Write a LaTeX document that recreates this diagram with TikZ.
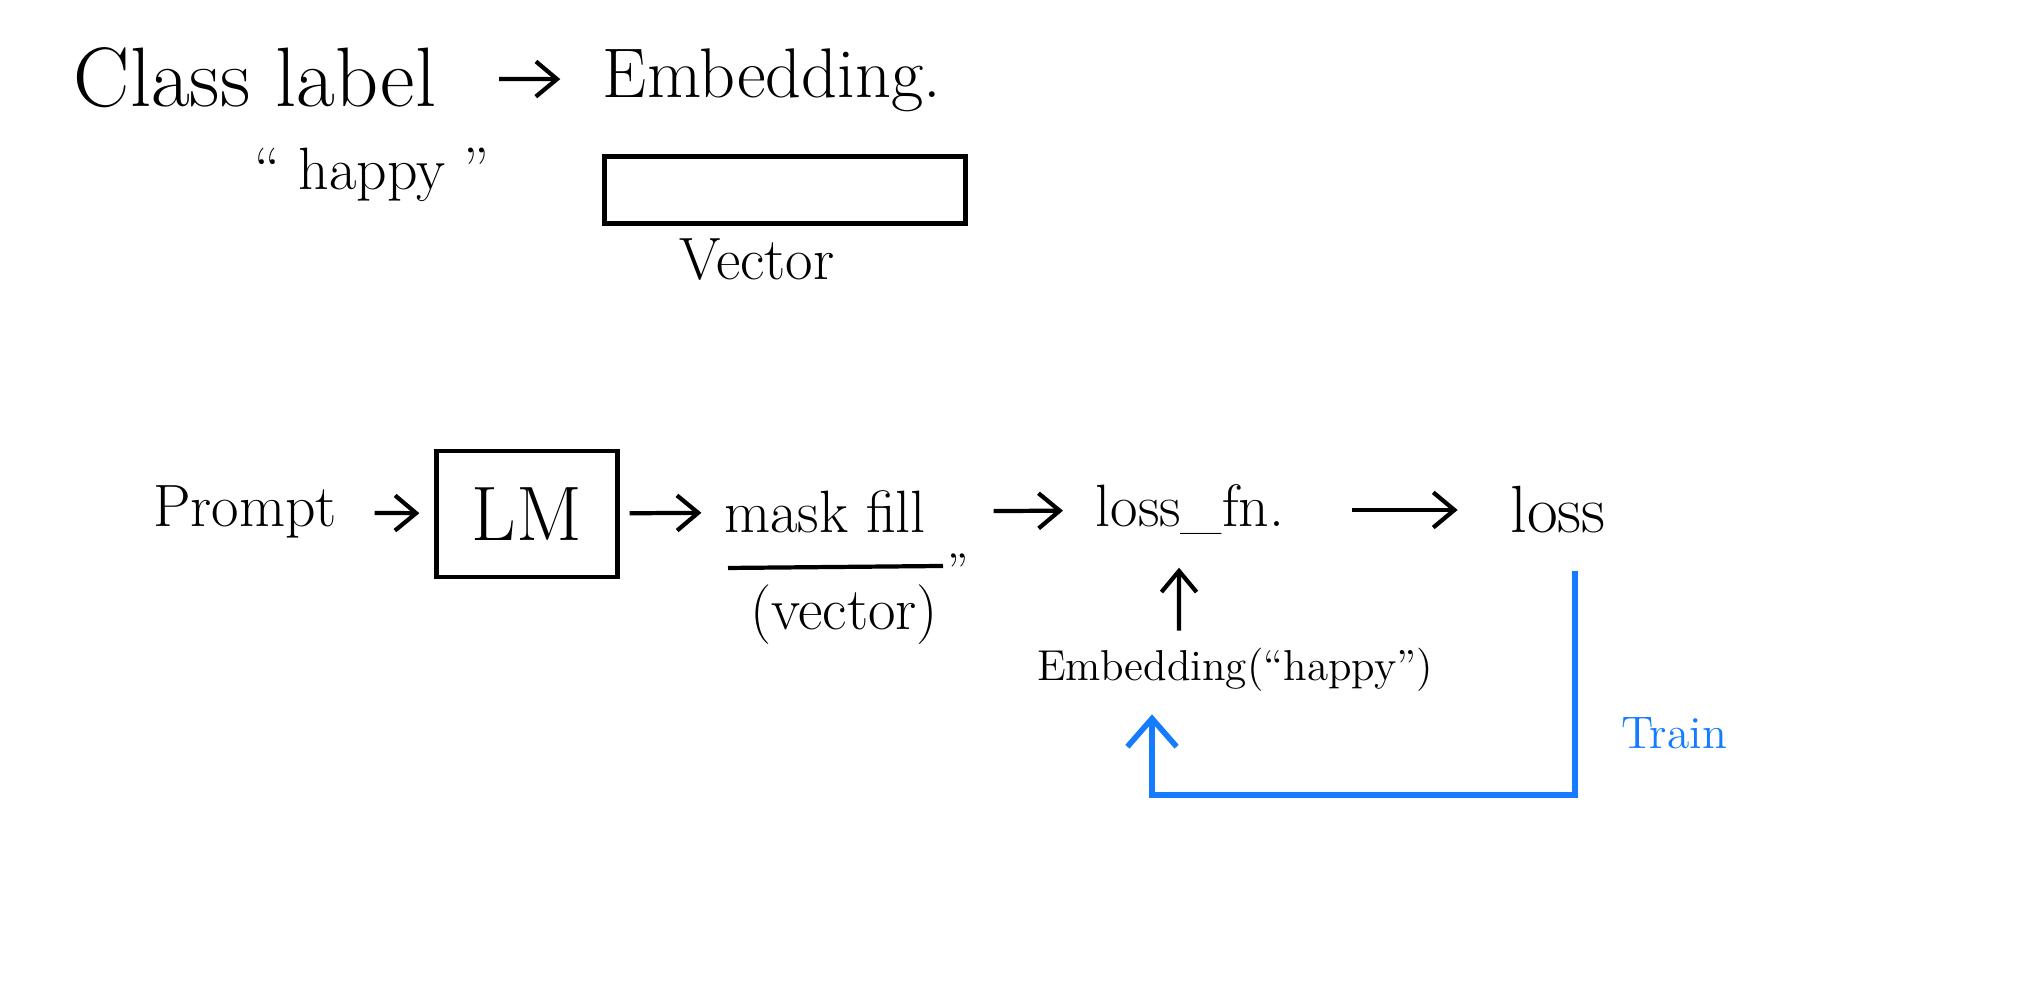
\documentclass[tikz,border=0pt]{standalone}
\usetikzlibrary{arrows.meta}
\definecolor{trainblue}{RGB}{22,124,255}
\tikzset{
	hand/.style={font=\fontsize{17}{20}\selectfont,inner sep=2pt},
	big/.style={font=\fontsize{22}{26}\selectfont,inner sep=2pt},
	small/.style={font=\fontsize{13}{16}\selectfont,inner sep=2pt},
	arr/.style={-{Straight Barb[length=6pt,width=10pt]},line width=1.2pt},
	box/.style={draw,line width=1.2pt},
	trainline/.style={trainblue,line width=1.6pt,-{Straight Barb[length=8pt,width=14pt]}}
}

\begin{document}
\begin{tikzpicture}
	\useasboundingbox (0,0) rectangle (20.32,10);

	\node [big,font=\fontsize{24}{28}\selectfont] (class) at (2.55,9.22) {Class label};
	\node [big,font=\fontsize{20}{24}\selectfont] (emb) at (7.72,9.20) {Embedding.};
	\node [hand] (happy) at (3.72,8.25) {`` happy ''};
	\node [box,minimum width=3.61cm,minimum height=0.67cm] (vecbox) at (7.85,8.10) {};
	\node [hand] (vec) at (7.57,7.40) {Vector};

	\node [hand] (prompt) at (2.45,4.88) {Prompt};
	\node [box,font=\fontsize{22}{26}\selectfont,minimum width=1.81cm,minimum height=1.26cm] (lm) at (5.27,4.86) {LM};
	\node [hand] (mask) at (8.25,4.88) {mask fill};
	\coordinate (ulstart) at (7.28,4.32);
	\coordinate (ulend) at (9.43,4.34);
	\node [small] (ditto) at (9.58,4.30) {''};
	\node [hand] (vecparen) at (8.44,3.85) {(vector)};
	\node [hand] (lossfn) at (11.90,4.90) {loss\_fn.};
	\node [hand,font=\fontsize{19}{22}\selectfont] (loss) at (15.58,4.90) {loss};
	\node [small,font=\fontsize{12.3}{15}\selectfont] (embhappy) at (12.35,3.30) {Embedding(``happy'')};
	\node [small,text=trainblue] (train) at (16.74,2.67) {Train};
	\coordinate (turn) at (15.75,2.05);

	\draw [arr,shorten <=0.55cm,shorten >=0.35cm] (class) -- (emb);
	\draw [arr,shorten <=0.3cm,shorten >=0.15cm] (prompt) -- (lm);
	\draw [arr,shorten <=0.1cm,shorten >=0.15cm] (lm) -- (mask);
	\draw [arr,shorten <=0.6cm,shorten >=0.25cm] (mask) -- (lossfn);
	\draw [arr,shorten <=0.6cm,shorten >=0.45cm] (lossfn) -- (loss);
	\draw [arr,shorten >=0.25cm] ([xshift=-0.56cm,yshift=0.1cm]embhappy.north) -- ([xshift=-0.11cm]lossfn.south);
	\draw [line width=1.2pt] (ulstart) -- (ulend);
	\draw [trainline] ([xshift=0.17cm,yshift=-0.3cm]loss.south) -- (turn) -| ([xshift=-0.83cm,yshift=-0.15cm]embhappy.south);
\end{tikzpicture}
\end{document}
